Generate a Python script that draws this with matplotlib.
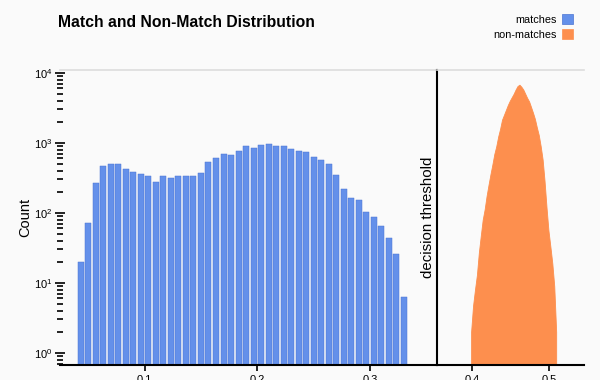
import numpy as np
import matplotlib.pyplot as plt
from matplotlib.patches import Patch

plt.rcParams['font.family'] = ['Liberation Sans', 'DejaVu Sans']

# ---- data ----
# matches: 44 bins of width 1/150 from 0.04 to 0.3333
match_bin_start = 0.04
match_bin_width = 1.0 / 150
match_counts = [20, 71, 266, 469, 506, 506, 421, 377, 361, 334, 277, 334,
                309, 330, 338, 338, 369, 530, 604, 689, 674, 769, 887, 849,
                927, 968, 887, 887, 813, 776, 727, 637, 571, 501, 345, 218,
                162, 150, 101, 88, 65, 43, 26, 6.3]

# non-matches: fine bins of width 0.0025 from 0.3975 to 0.51
nonmatch_bin_start = 0.3975
nonmatch_bin_width = 0.0025
nonmatch_counts = [2, 4.7, 8, 13, 27, 47, 80, 112, 174, 251, 355, 490, 692,
                   891, 1230, 1585, 2140, 2510, 2950, 3470, 3980, 4470, 5010,
                   5750, 6460, 6760, 6310, 5750, 5010, 4370, 3890, 3240, 2690,
                   2190, 1660, 1290, 891, 575, 282, 120, 56, 33, 19, 9, 2]

left_xlim = (0.0249, 0.3597)
right_xlim = (0.355, 0.5447)
ylim = (0.67, 10960)

BLUE = '#6490EA'
BLUE_EDGE = '#4C74D2'
ORANGE = '#FD8F4E'
BG = '#FAFAFA'

match_edges = match_bin_start + match_bin_width * np.arange(len(match_counts) + 1)
nonmatch_centers = nonmatch_bin_start + nonmatch_bin_width * (np.arange(len(nonmatch_counts)) + 0.5)

fig = plt.figure(figsize=(6, 3.8), dpi=100, facecolor=BG)
ax = fig.add_axes([0.1, 0.0395, 0.6288, 0.7763], facecolor=BG)
ax2 = fig.add_axes([0.7288, 0.0395, 0.2445, 0.7763], facecolor=BG, sharey=ax)

# matches histogram
ax.bar(match_edges[:-1] + match_bin_width * 0.1, match_counts,
       width=match_bin_width * 0.8, align='edge', color=BLUE,
       edgecolor=BLUE_EDGE, linewidth=0.35)

# non-matches histogram (very fine bins -> smooth outline)
ax2.fill_between(nonmatch_centers, nonmatch_counts, ylim[0], color=ORANGE,
                 linewidth=0.6, edgecolor=ORANGE)

ax.set_yscale('log')
ax.set_ylim(*ylim)
ax.set_xlim(*left_xlim)
ax2.set_xlim(*right_xlim)

ax.set_xticks([0.1, 0.2, 0.3])
ax.set_xticklabels(['0.1', '0.2', '0.3'])
ax2.set_xticks([0.4, 0.5])
ax2.set_xticklabels(['0.4', '0.5'])

for a in (ax, ax2):
    a.spines['right'].set_visible(False)
    a.spines['top'].set_color('#dddddd')
    a.spines['top'].set_linewidth(1.2)
    a.spines['bottom'].set_color('black')
    a.spines['bottom'].set_linewidth(1.5)
    a.tick_params(axis='x', labelsize=8, length=4, width=1.2, pad=3)

ax.spines['left'].set_visible(False)
ax.tick_params(axis='y', which='major', direction='inout', length=7,
               width=1.2, labelsize=8, pad=2)
ax.tick_params(axis='y', which='minor', direction='inout', length=4, width=1.2)

# right panel: its left spine is the decision threshold line
ax2.spines['left'].set_color('black')
ax2.spines['left'].set_linewidth(1.5)
ax2.tick_params(axis='y', which='both', left=False, labelleft=False)

ax.set_ylabel('Count', fontsize=10.5)
ax.yaxis.set_label_coords(-0.074, 0.5)
ax.text(0.976, 0.5, 'decision threshold', transform=ax.transAxes,
        rotation=90, ha='center', va='center', fontsize=10.8)

fig.text(0.097, 0.942, 'Match and Non-Match Distribution', fontsize=11.3,
         fontweight='bold', ha='left', va='center')

handles = [Patch(facecolor=BLUE, edgecolor=BLUE_EDGE, linewidth=0.5),
           Patch(facecolor=ORANGE, edgecolor=ORANGE, linewidth=0.5)]
fig.legend(handles, ['matches', 'non-matches'], loc='upper right',
           bbox_to_anchor=(0.963, 0.975), frameon=False, markerfirst=False,
           fontsize=7.8, handlelength=1.05, handleheight=1.05,
           handletextpad=0.5, labelspacing=0.45, borderaxespad=0)

fig.savefig('out.png', dpi=100, facecolor=BG)
